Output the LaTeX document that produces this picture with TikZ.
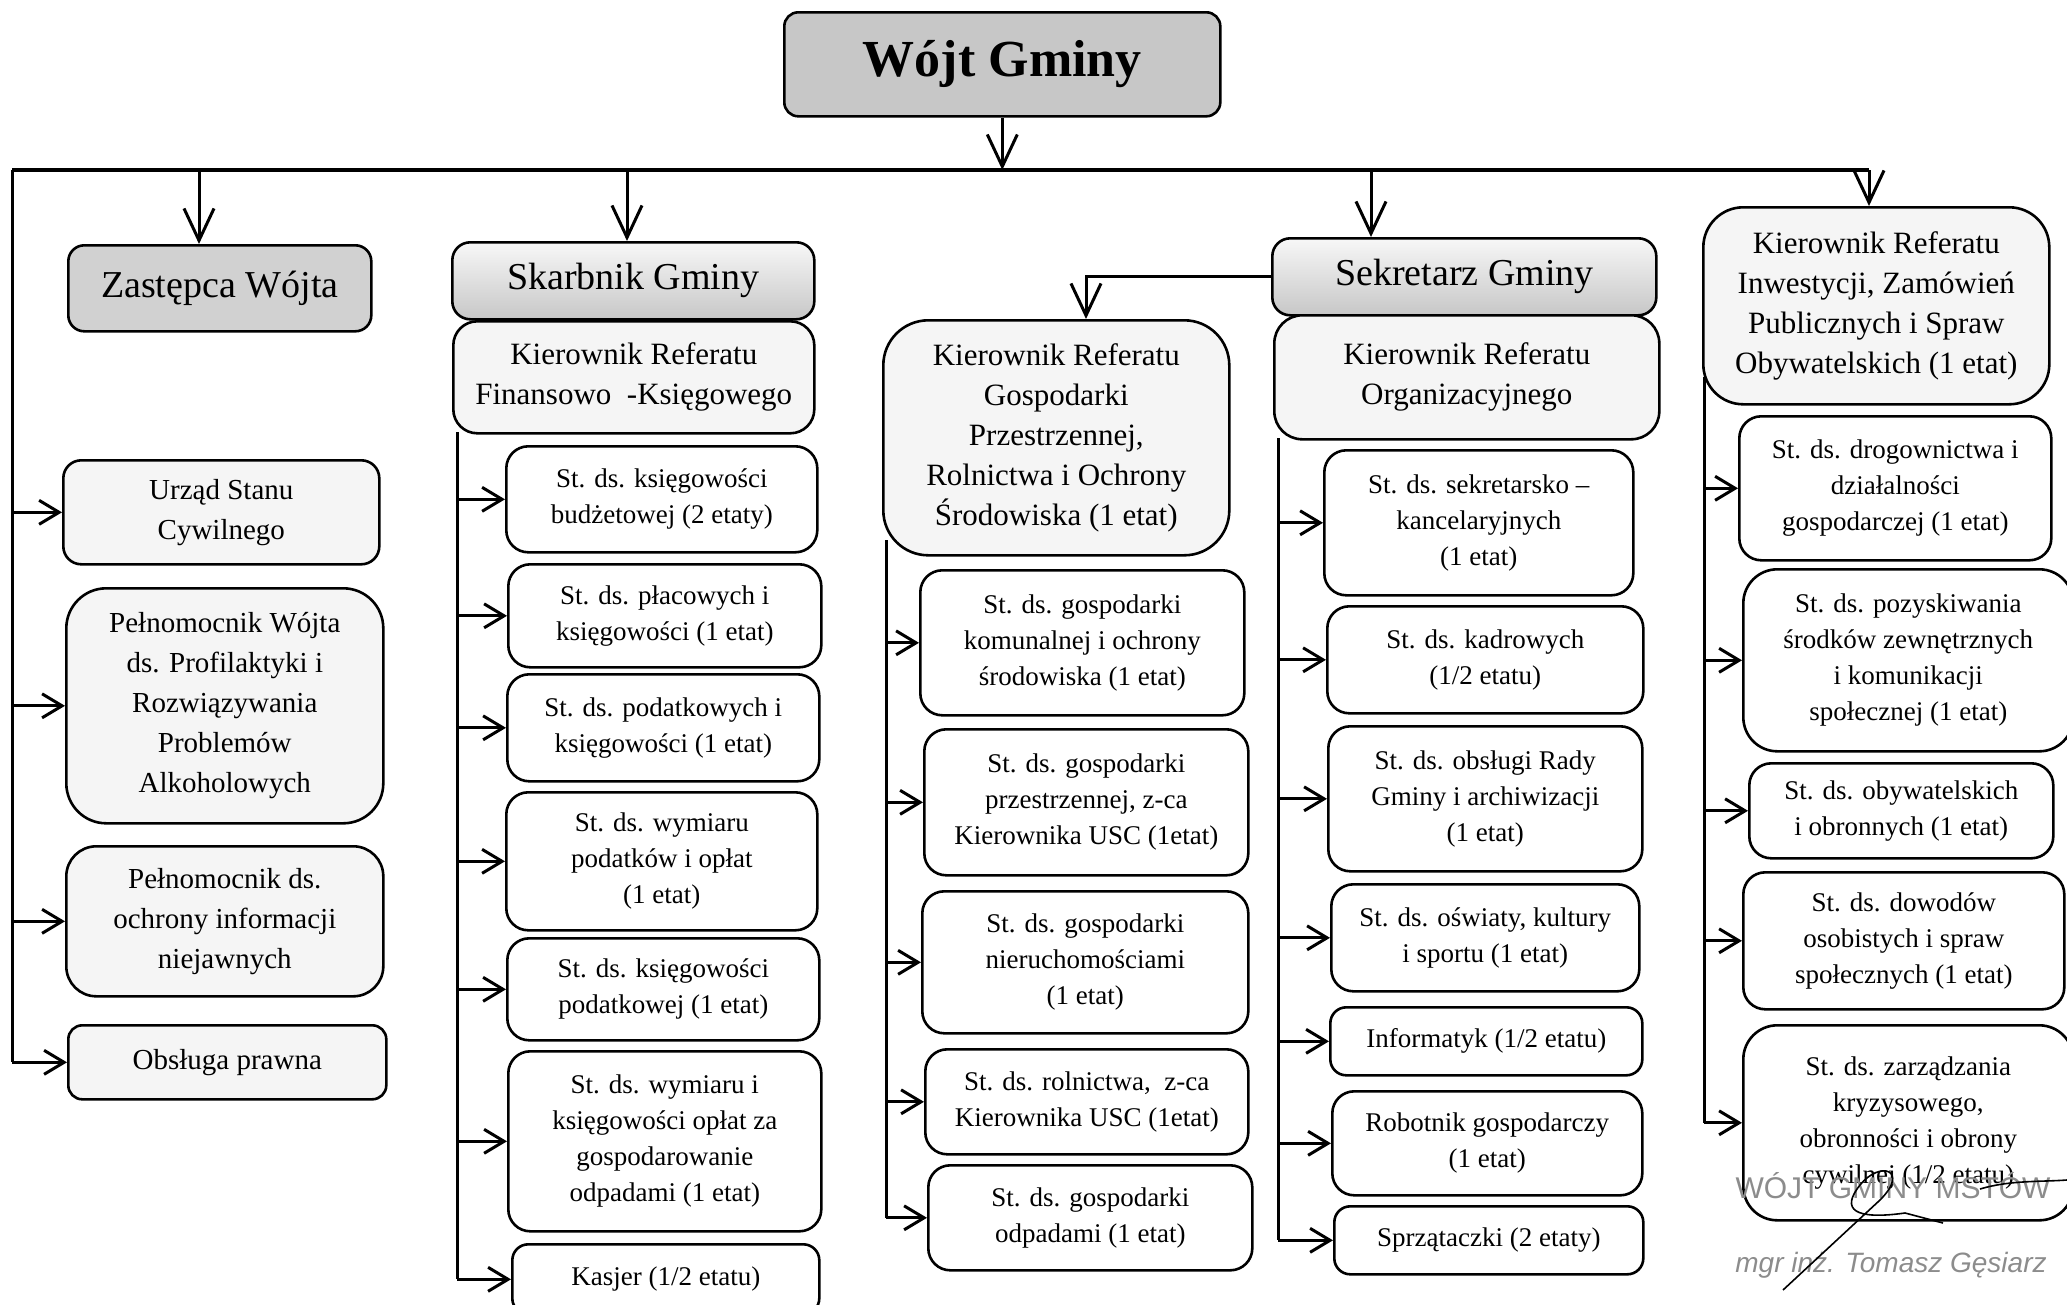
\documentclass[tikz,border=0pt]{standalone}
\usepackage{fontspec}
\setmainfont{Liberation Serif}
\setsansfont{Liberation Sans}
\usetikzlibrary{arrows.meta}

\begin{document}
\begin{tikzpicture}
        [x=1pt, y=-1pt,
        box/.style={draw=black, line width=2.6pt, rounded corners=22pt, fill=white,
            align=center, anchor=north west, inner sep=0pt,
            font=\fontsize{27}{36}\selectfont},
        leftbox/.style={box, fill=black!4, font=\fontsize{29}{40}\selectfont},
        headbox/.style={box, rounded corners=40pt, fill=black!4, font=\fontsize{31}{40}\selectfont},
        chiefbox/.style={box, rounded corners=18pt, top color=black!3, bottom color=black!22,
            font=\fontsize{38}{46}\selectfont},
        stamp/.style={text=black!45, font=\sffamily\fontsize{30}{34}\selectfont},
        link/.style={line width=3pt},
        arr/.style={line width=3pt, -{Straight Barb[length=20pt, width=24pt]}},
        droparr/.style={line width=3pt, -{Straight Barb[length=32pt, width=30pt]}}]
        \useasboundingbox (0,0) rectangle (2067,1304);

        % top
        \node [box, rounded corners=14pt, fill=black!22, minimum width=436pt, minimum height=104pt,
            font=\fontsize{52}{60}\selectfont\bfseries] (wojt) at (783,11) {Wójt Gminy};

        \node [box, rounded corners=16pt, fill=black!18, minimum width=303pt, minimum height=86pt,
            font=\fontsize{38}{46}\selectfont] (zastepca) at (67,244) {Zastępca Wójta};
        \node [chiefbox, minimum width=362pt, minimum height=77pt] (skarbnik) at (451,241) {Skarbnik Gminy};
        \node [chiefbox, minimum width=384pt, minimum height=77pt] (sekretarz) at (1271,237) {Sekretarz Gminy};

        \node [headbox, rounded corners=24pt, minimum width=361pt, minimum height=112pt] (KierFin) at (452,320)
            {Kierownik Referatu\\Finansowo \ -Księgowego};
        \node [headbox, rounded corners=28pt, minimum width=385pt, minimum height=124pt] (KierOrg) at (1273,314)
            {Kierownik Referatu\\Organizacyjnego};
        \node [headbox, rounded corners=45pt, minimum width=346pt, minimum height=235pt] (KierGosp) at (882,319)
            {Kierownik Referatu\\Gospodarki\\Przestrzennej,\\Rolnictwa i Ochrony\\Środowiska (1 etat)};
        \node [headbox, minimum width=346pt, minimum height=197pt] (KierInw) at (1702,206)
            {Kierownik Referatu\\Inwestycji, Zamówień\\Publicznych i Spraw\\Obywatelskich (1 etat)};

        % left column
        \node [leftbox, rounded corners=18pt, minimum width=316pt, minimum height=104pt] (urzad) at (62,459)
            {Urząd Stanu\\Cywilnego};
        \node [leftbox, rounded corners=40pt, minimum width=317pt, minimum height=235pt] (pelnWojta) at (65,587)
            {Pełnomocnik Wójta\\ds. Profilaktyki i\\Rozwiązywania\\Problemów\\Alkoholowych};
        \node [leftbox, rounded corners=30pt, minimum width=317pt, minimum height=150pt] (pelnInfo) at (65,845)
            {Pełnomocnik ds.\\ochrony informacji\\niejawnych};
        \node [leftbox, rounded corners=14pt, minimum width=318pt, minimum height=74pt] (obsluga) at (67,1024)
            {Obsługa prawna};

        % Skarbnik
        \node [box, minimum width=311pt, minimum height=106pt] (ksBudz) at (505,445)
            {St. ds. księgowości\\budżetowej (2 etaty)};
        \node [box, minimum width=313pt, minimum height=103pt] (placowe) at (507,563)
            {St. ds. płacowych i\\księgowości (1 etat)};
        \node [box, minimum width=312pt, minimum height=107pt] (podatkowe) at (506,673)
            {St. ds. podatkowych i\\księgowości (1 etat)};
        \node [box, minimum width=311pt, minimum height=138pt] (wymiarPod) at (505,791)
            {St. ds. wymiaru\\podatków i opłat\\(1 etat)};
        \node [box, minimum width=312pt, minimum height=102pt] (ksPod) at (506,937)
            {St. ds. księgowości\\podatkowej (1 etat)};
        \node [box, minimum width=313pt, minimum height=180pt] (odpadyOpl) at (507,1050)
            {St. ds. wymiaru i\\księgowości opłat za\\gospodarowanie\\odpadami (1 etat)};
        \node [box, rounded corners=16pt, minimum width=307pt, minimum height=70pt] (kasjer) at (511,1243)
            {Kasjer (1/2 etatu)};

        % Gospodarka
        \node [box, minimum width=324pt, minimum height=145pt] (komunalna) at (919,569)
            {St. ds. gospodarki\\komunalnej i ochrony\\środowiska (1 etat)};
        \node [box, minimum width=324pt, minimum height=146pt] (przestrzenna) at (923,728)
            {St. ds. gospodarki\\przestrzennej, z-ca\\Kierownika USC (1etat)};
        \node [box, minimum width=326pt, minimum height=142pt] (nieruch) at (921,890)
            {St. ds. gospodarki\\nieruchomościami\\(1 etat)};
        \node [box, minimum width=323pt, minimum height=105pt] (rolnictwo) at (924,1048)
            {St. ds. rolnictwa, \ z-ca\\Kierownika USC (1etat)};
        \node [box, minimum width=324pt, minimum height=105pt] (odpady) at (927,1164)
            {St. ds. gospodarki\\odpadami (1 etat)};

        % Organizacyjny
        \node [box, minimum width=309pt, minimum height=145pt] (sekretarskie) at (1323,449)
            {St. ds. sekretarsko –\\kancelaryjnych\\(1 etat)};
        \node [box, minimum width=316pt, minimum height=107pt] (kadrowe) at (1326,605)
            {St. ds. kadrowych\\(1/2 etatu)};
        \node [box, minimum width=314pt, minimum height=145pt] (rada) at (1327,725)
            {St. ds. obsługi Rady\\Gminy i archiwizacji\\(1 etat)};
        \node [box, minimum width=308pt, minimum height=107pt] (oswiata) at (1330,883)
            {St. ds. oświaty, kultury\\i sportu (1 etat)};
        \node [box, rounded corners=16pt, minimum width=312pt, minimum height=68pt] (informatyk) at (1329,1006)
            {Informatyk (1/2 etatu)};
        \node [box, minimum width=310pt, minimum height=104pt] (robotnik) at (1331,1090)
            {Robotnik gospodarczy\\(1 etat)};
        \node [box, rounded corners=16pt, minimum width=309pt, minimum height=68pt] (sprzataczki) at (1333,1205)
            {Sprzątaczki (2 etaty)};

        % Inwestycje
        \node [box, minimum width=312pt, minimum height=144pt] (drogi) at (1738,415)
            {St. ds. drogownictwa i\\działalności\\gospodarczej (1 etat)};
        \node [box, rounded corners=34pt, minimum width=330pt, minimum height=182pt] (pozysk) at (1742,568)
            {St. ds. pozyskiwania\\środków zewnętrznych\\i komunikacji\\społecznej (1 etat)};
        \node [box, minimum width=304pt, minimum height=95pt] (obywat) at (1748,762)
            {St. ds. obywatelskich\\i obronnych (1 etat)};
        \node [box, minimum width=321pt, minimum height=137pt] (dowody) at (1742,871)
            {St. ds. dowodów\\osobistych i spraw\\społecznych (1 etat)};
        \node [box, rounded corners=34pt, minimum width=330pt, minimum height=195pt] (kryzys) at (1742,1024)
            {St. ds. zarządzania\\kryzysowego,\\obronności i obrony\\cywilnej (1/2 etatu)};

        % connectors
        \coordinate (busL) at (12,170);
        \coordinate (busR) at (1869,170);
        \coordinate (dZ) at (199,170);
        \coordinate (dS) at (627,170);
        \coordinate (dO) at (1371,170);
        \coordinate (sg) at (1086,0);
        \coordinate (tS) at (457,432);
        \coordinate (tG) at (886,540);
        \coordinate (tO) at (1278,438);
        \coordinate (tI) at (1704,377);

        \draw [link, line width=4.5pt] (busL) -- (busR);
        \draw [droparr] (wojt.south) -- (wojt.south |- busL);
        \draw [droparr] (dZ) -- (dZ |- zastepca.north);
        \draw [droparr] (dS) -- (dS |- skarbnik.north);
        \draw [droparr] (dO) -- (dO |- sekretarz.north);
        \draw [droparr] (busR) -- (busR |- KierInw.north);
        \draw [droparr] (sekretarz.west) -| (sg |- KierGosp.north);

        \draw [link] (busL) -- (busL |- obsluga.west);
        \foreach \n in {urzad, pelnWojta, pelnInfo, obsluga}
            \draw [arr] (busL |- \n.west) -- (\n.west);

        \draw [link] (tS) -- (tS |- kasjer.west);
        \foreach \n in {ksBudz, placowe, podatkowe, wymiarPod, ksPod, odpadyOpl, kasjer}
            \draw [arr] (tS |- \n.west) -- (\n.west);

        \draw [link] (tG) -- (tG |- odpady.west);
        \foreach \n in {komunalna, przestrzenna, nieruch, rolnictwo, odpady}
            \draw [arr] (tG |- \n.west) -- (\n.west);

        \draw [link] (tO) -- (tO |- sprzataczki.west);
        \foreach \n in {sekretarskie, kadrowe, rada, oswiata, informatyk, robotnik, sprzataczki}
            \draw [arr] (tO |- \n.west) -- (\n.west);

        \draw [link] (tI) -- (tI |- kryzys.west);
        \foreach \n in {drogi, pozysk, obywat, dowody, kryzys}
            \draw [arr] (tI |- \n.west) -- (\n.west);

        % pieczatka i podpis
        \node [stamp] (pieczec) at (1893,1186) {WÓJT GMINY MSTÓW};
        \node [stamp, font=\sffamily\itshape\fontsize{28}{32}\selectfont] (nazwisko) at (1891,1265) {mgr inż. Tomasz Gęsiarz};
        \draw [line width=1.6pt] (1783,1290) -- (1880,1200) .. controls (1910,1170) and (1880,1160) .. (1860,1185)
            .. controls (1840,1210) and (1855,1220) .. (1905,1213) -- (1943,1223);
        \draw [line width=1.6pt] (1980,1189) .. controls (2010,1180) and (2040,1182) .. (2067,1180);
\end{tikzpicture}
\end{document}
